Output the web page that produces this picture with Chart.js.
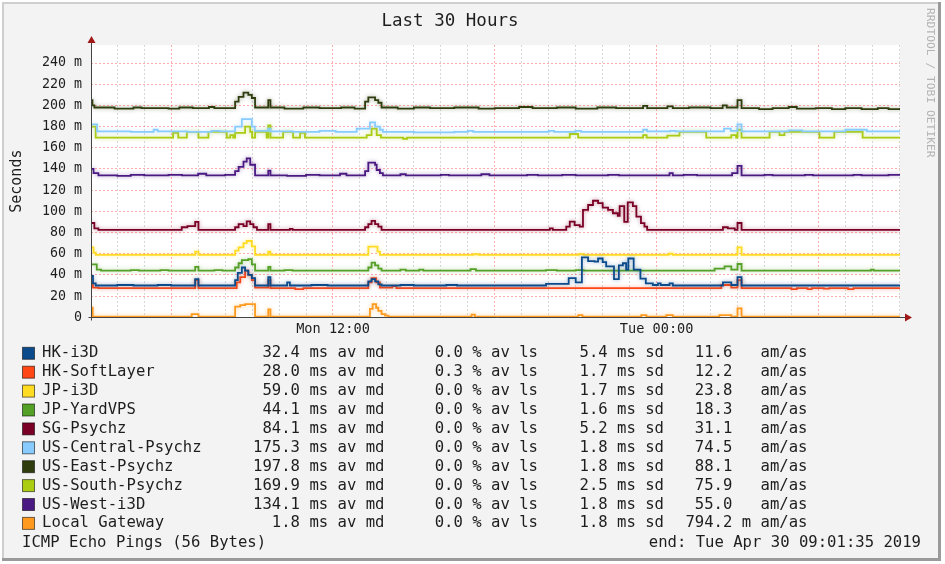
<!DOCTYPE html>
<html>
<head>
<meta charset="utf-8">
<title>Last 30 Hours</title>
<script src="https://cdn.jsdelivr.net/npm/chart.js@4.4.1/dist/chart.umd.min.js"></script>
<style>
  html, body { margin: 0; padding: 0; background: #fff; overflow: hidden; }
  canvas { display: block; }
</style>
</head>
<body>
<canvas id="c" width="945" height="564"></canvas>
<script>
// time axis in hours since Mon 00:00 (start Mon 03:01:35, end Tue 09:01:35)
const T0 = 3.026;
const T1 = 33.026;

const xLabelHours = [12, 24];
const xLabelText = ['Mon 12:00', 'Tue 00:00'];
const yLabelValues = [0, 20, 40, 60, 80, 100, 120, 140, 160, 180, 200, 220, 240];
const yLabelText = ['0', '20 m', '40 m', '60 m', '80 m', '100 m', '120 m', '140 m', '160 m', '180 m', '200 m', '220 m', '240 m'];

const names = ['HK-i3D', 'HK-SoftLayer', 'JP-i3D', 'JP-YardVPS', 'SG-Psychz', 'US-Central-Psychz',
  'US-East-Psychz', 'US-South-Psychz', 'US-West-i3D', 'Local Gateway'];
const colors = ['#0b4a8b', '#ff4716', '#ffdb22', '#55a026', '#7b0026', '#88ccff',
  '#2f3d0e', '#aacc11', '#4a1a82', '#ff9a1f'];
const avgMedian = ['32.4', '28.0', '59.0', '44.1', '84.1', '175.3', '197.8', '169.9', '134.1', '1.8'];
const avgLoss = ['0.0', '0.3', '0.0', '0.0', '0.0', '0.0', '0.0', '0.0', '0.0', '0.0'];
const avgSd = ['5.4', '1.7', '1.7', '1.6', '5.2', '1.8', '1.8', '2.5', '1.8', '1.8'];
const amAs = ['11.6', '12.2', '23.8', '18.3', '31.1', '74.5', '88.1', '75.9', '55.0', '794.2'];
const amAsUnit = [' ', ' ', ' ', ' ', ' ', ' ', ' ', ' ', ' ', 'm'];

// median rtt in ms, [hour, value] step points (value holds until next point)
const hkI3d = [[3.03,39],[3.1,32],[3.2,30],[4.0,30.5],[4.6,30],[5.5,30.5],[6.0,30],[6.89,36],[7.01,30],
  [8.37,35],[8.47,42],[8.62,47],[8.74,44],[8.86,40],[8.99,37],[9.11,30],[9.6,38],[9.68,30],[10.3,33],[10.4,30],
  [11.2,30.5],[11.8,30],[13.31,34],[13.43,36],[13.56,34],[13.68,31],[13.8,30],[14.5,30.5],[15.0,30],[16.2,30.5],
  [16.6,30],[19.9,31.5],[20.74,37],[21.0,33],[21.23,56.5],[21.46,53],[21.7,52.5],[21.83,55.5],[22.0,52],[22.13,48],
  [22.42,36],[22.6,49],[22.75,51],[22.87,45],[22.95,55.5],[23.15,45],[23.4,36.5],[23.6,32],[23.86,30.5],[24.05,32],
  [24.15,30.5],[24.48,32],[24.6,30],[26.46,33],[26.77,30.5],[27.0,38],[27.15,30],[33.03,30]];
const hkSoft = [[3.03,33],[3.1,28],[3.3,27.5],[6.89,35],[7.01,27.5],[8.43,33],[8.56,38],[8.74,44],[8.86,40],
  [8.99,35],[9.11,28],[9.6,35],[9.68,27.5],[10.6,26.5],[10.9,27.5],[13.31,33],[13.43,37],[13.6,33],[13.74,28],
  [14.2,29.5],[14.35,27.5],[26.4,30.5],[26.77,28],[27.0,35],[27.15,27.5],[29.0,26.5],[29.2,27.5],[29.6,26.5],
  [29.75,27.5],[30.2,27],[30.4,27.5],[31.1,26.5],[31.3,27.5],[33.03,27.5]];
const jpI3d = [[3.03,66],[3.12,61],[3.2,59],[6.89,62],[7.01,59],[8.37,63],[8.5,66],[8.68,70],[8.8,72],[8.99,67],
  [9.11,59],[9.6,62],[9.68,59],[13.31,66.7],[13.65,62],[13.74,59],[17.2,59.5],[17.4,59],[21.1,59.5],[21.3,59],
  [24.45,60],[24.6,59],[27.0,66],[27.15,59],[33.03,59]];
const jpYard = [[3.03,50],[3.24,45],[3.4,44],[4.5,44.5],[4.8,44],[5.6,44.5],[5.9,44],[6.89,47.5],[7.01,44],
  [7.6,44.5],[7.9,44],[8.37,47],[8.5,51],[8.62,54],[8.86,55],[8.99,50],[9.11,44],[9.6,47.5],[9.68,44],[10.2,44.5],
  [10.5,44],[13.31,47],[13.43,51.6],[13.56,49],[13.68,46],[13.8,44],[14.5,45],[14.7,44],[15.2,45],[15.35,44],
  [17.1,45.5],[17.3,44],[19.9,44.5],[20.3,44],[21.0,44.5],[21.3,44],[26.15,46],[26.52,48],[26.77,45],[27.0,50.3],
  [27.15,44],[31.95,45],[32.05,44],[33.03,44]];
const sgPsychz = [[3.03,89],[3.15,84],[3.3,82.5],[6.39,85],[6.6,86],[6.89,90],[7.01,82.5],[8.37,85],[8.5,88],
  [8.68,86],[8.8,90.5],[8.93,88],[9.05,85],[9.18,82.5],[9.6,88],[9.68,82.5],[10.4,83.5],[10.5,82.5],[13.19,85],
  [13.31,88],[13.43,91],[13.56,88],[13.68,85.5],[13.8,82.5],[20.04,84],[20.15,82.5],[20.65,85.6],[20.78,90.3],
  [20.96,87],[21.15,85.6],[21.27,101.4],[21.46,106],[21.64,110],[21.83,107.7],[22.0,103.5],[22.2,101.4],
  [22.38,98.2],[22.56,95.7],[22.63,105],[22.8,90],[22.93,108.5],[23.12,105],[23.25,95],[23.42,88.8],[23.55,85.6],
  [23.65,82.5],[26.46,85],[26.64,84],[26.9,82.5],[27.0,89],[27.15,82.5],[33.03,82.5]];
const usCentral = [[3.03,182],[3.25,175.5],[4.5,175],[5.35,177],[5.5,175.5],[6.6,175],[7.5,176],[7.8,175.5],
  [8.37,180],[8.62,187],[8.99,180],[9.1,176],[9.6,178],[9.68,175.5],[10.5,175],[11.5,176],[12.1,175],[12.88,178],
  [13.37,184],[13.56,180],[13.74,177],[13.85,175],[15.0,174.5],[16.5,175],[17.0,176],[17.2,175],[20.0,176],
  [20.2,175],[21.0,176],[21.2,175],[23.5,177],[23.65,175.5],[24.5,176],[24.7,175.5],[26.5,178],[26.75,176],
  [27.0,182],[27.15,175.5],[28.9,176.5],[29.4,175.5],[31.0,177],[31.8,175.5],[33.03,175.5]];
const usEast = [[3.03,205],[3.08,200],[3.15,198],[3.9,197],[4.6,198],[4.9,197.5],[5.9,197],[6.3,198],[6.8,197.5],
  [7.4,198.5],[7.6,197.5],[8.37,203.5],[8.5,208],[8.68,212],[8.86,210],[8.99,207],[9.11,198],[9.6,205],[9.68,198],
  [10.2,197],[10.9,198],[11.5,197.5],[12.3,198],[12.8,197],[13.19,203.5],[13.31,207.5],[13.56,205],[13.68,202.5],
  [13.8,198],[14.4,197],[15.0,198],[15.6,197.5],[16.5,198],[17.4,197],[18.0,197.5],[18.9,198.5],[19.4,197.5],
  [20.3,198],[21.0,197],[21.8,198],[22.5,197.5],[23.5,199.5],[23.65,197.5],[24.4,199],[24.6,197.5],[25.2,198],
  [26.0,197.5],[26.45,200],[26.6,198],[27.0,205],[27.15,197.5],[27.8,196.5],[28.3,197.5],[28.9,198.5],[29.2,197],
  [29.9,197.5],[30.5,196.5],[31.0,197.5],[31.6,196.5],[32.2,197.5],[32.6,196.5],[33.03,197.5]];
const usSouth = [[3.03,180],[3.2,169.5],[6.07,174],[6.26,169.5],[6.58,175],[7.01,169.5],[7.38,175],[8.06,169.5],
  [8.19,172],[8.3,169.5],[8.37,174],[8.74,180],[8.93,175],[9.0,169.5],[9.11,175],[9.54,169.5],[9.6,181],[9.68,169.5],
  [10.15,175],[10.52,169.5],[10.78,174],[10.96,169.5],[13.25,172],[13.43,178],[13.62,172],[13.78,169.5],[14.6,168.5],
  [14.75,169.5],[20.78,173],[21.09,169.5],[23.5,172],[23.63,169.5],[24.4,171.5],[24.85,175],[25.84,169.5],
  [26.77,172],[26.95,169.5],[27.0,177],[27.15,169.5],[28.19,175],[28.56,172],[28.74,175],[30.04,169.5],[30.59,175],
  [31.64,169.5],[33.03,169.5]];
const usWest = [[3.03,140],[3.12,136],[3.3,134],[4.0,133.5],[4.5,134.5],[5.0,134],[5.9,134.5],[6.4,134],[7.0,135.5],
  [7.3,134],[8.0,134.5],[8.37,138],[8.5,142],[8.68,147],[8.8,150],[8.93,144],[9.11,134],[9.6,138.5],[9.68,134],
  [10.3,133.5],[11.0,134.5],[11.5,134],[12.26,135.5],[12.5,134],[13.19,138],[13.31,146],[13.56,144],[13.62,139],
  [13.74,136],[13.85,134],[14.5,135],[14.7,134],[16.0,134.5],[16.3,134],[17.5,135],[17.8,134],[19.2,134.5],
  [19.6,134],[20.5,134.5],[21.0,134],[22.2,134.5],[22.6,134],[24.48,136],[24.6,134],[25.0,134.5],[25.5,134],
  [26.8,136],[27.0,143],[27.15,134],[28.0,134.5],[28.3,134],[29.5,134.5],[29.8,134],[31.3,134.5],[31.6,134],
  [32.6,134.5],[33.03,134]];
const localGw = [[3.03,9],[3.09,0.6],[6.76,3],[7.01,0.6],[8.37,10],[8.56,11.5],[8.74,12.5],[9.11,0.6],[9.6,7.5],
  [9.68,0.6],[13.37,8],[13.47,12.5],[13.6,9],[13.68,6],[13.8,3],[13.93,1.5],[14.05,0.6],[17.14,2.5],[17.26,0.6],
  [21.1,2],[21.25,0.6],[23.43,2],[23.62,0.6],[24.36,2],[24.6,0.6],[26.33,2],[26.77,0.6],[27.0,8.5],[27.15,0.6],
  [33.03,0.6]];

const seriesData = [hkI3d, hkSoft, jpI3d, jpYard, sgPsychz, usCentral, usEast, usSouth, usWest, localGw];

const MONO = '"DejaVu Sans Mono", "Liberation Mono", monospace';
const TEXT = '#1e1e1e';
const MGRID = 'rgba(255, 0, 0, 0.32)';
const GRID = 'rgba(120, 120, 120, 0.3)';

const hourTicks = [];
for (let h = 4; h <= 33; h++) hourTicks.push(h);
const yGridValues = [];
for (let v = 0; v <= 250; v += 10) yGridValues.push(v);

const rrdDecor = {
  id: 'rrdDecor',
  beforeDraw(chart) {
    const { ctx, chartArea: a } = chart;
    ctx.save();
    ctx.fillStyle = '#ffffff';
    ctx.fillRect(0, 0, 945, 564);
    ctx.fillStyle = '#f3f3f3';
    ctx.fillRect(2, 2, 939, 559);
    ctx.fillStyle = '#cfcfcf';
    ctx.fillRect(2, 2, 939, 2);
    ctx.fillRect(2, 2, 2, 559);
    ctx.fillStyle = '#9a9a9a';
    ctx.fillRect(938, 2, 3, 559);
    ctx.fillRect(2, 558, 939, 3);
    ctx.fillStyle = '#ffffff';
    ctx.fillRect(a.left, a.top, a.right - a.left, a.bottom - a.top);
    ctx.restore();
  },
  // soft halo round each line, like the smoke in the original
  beforeDatasetDraw(chart, args) {
    const ctx = chart.ctx;
    ctx.save();
    ctx.shadowColor = colors[args.index] + '70';
    ctx.shadowBlur = 4;
  },
  afterDatasetDraw(chart) {
    chart.ctx.restore();
  },
  afterDatasetsDraw(chart) {
    const { ctx, chartArea: a } = chart;
    const x0 = Math.round(a.left) + 0.5;
    const y0 = Math.round(a.bottom) + 0.5;
    ctx.save();
    ctx.strokeStyle = '#444';
    ctx.lineWidth = 1;
    ctx.beginPath();
    ctx.moveTo(x0, y0 + 3);
    ctx.lineTo(x0, a.top - 4);
    ctx.moveTo(x0 - 3, y0);
    ctx.lineTo(a.right + 6, y0);
    ctx.stroke();
    ctx.fillStyle = '#a01818';
    ctx.beginPath();
    ctx.moveTo(x0, a.top - 9);
    ctx.lineTo(x0 - 4, a.top - 2);
    ctx.lineTo(x0 + 4, a.top - 2);
    ctx.closePath();
    ctx.fill();
    ctx.beginPath();
    ctx.moveTo(a.right + 12, y0);
    ctx.lineTo(a.right + 5, y0 - 4);
    ctx.lineTo(a.right + 5, y0 + 4);
    ctx.closePath();
    ctx.fill();
    ctx.restore();
  },
  afterDraw(chart) {
    const { ctx } = chart;
    ctx.save();
    ctx.font = '15.6px ' + MONO;
    ctx.textBaseline = 'middle';
    names.forEach((name, i) => {
      const y = 353.3 + i * 18.9;
      ctx.fillStyle = colors[i];
      ctx.fillRect(22.5, y - 6, 12, 12);
      ctx.strokeStyle = 'rgba(0,0,0,0.55)';
      ctx.lineWidth = 1;
      ctx.strokeRect(22.5, y - 6, 12, 12);
      ctx.fillStyle = TEXT;
      ctx.textAlign = 'left';
      ctx.fillText(name, 42, y);
      ctx.textAlign = 'right';
      ctx.fillText(avgMedian[i] + ' ms av md', 384.5, y);
      ctx.fillText(avgLoss[i] + ' % av ls', 538, y);
      ctx.fillText(avgSd[i] + ' ms sd', 664, y);
      ctx.fillText(amAs[i] + ' ' + amAsUnit[i] + ' am/as', 807.5, y);
    });
    ctx.textAlign = 'left';
    ctx.fillText('ICMP Echo Pings (56 Bytes)', 22, 543);
    ctx.textAlign = 'right';
    ctx.fillText('end: Tue Apr 30 09:01:35 2019', 921, 543);

    ctx.translate(930, 8);
    ctx.rotate(Math.PI / 2);
    ctx.font = '11.3px ' + MONO;
    ctx.fillStyle = '#b4b4b4';
    ctx.textAlign = 'left';
    ctx.textBaseline = 'middle';
    ctx.fillText('RRDTOOL / TOBI OETIKER', 0, 0);
    ctx.restore();
  }
};

new Chart(document.getElementById('c'), {
  type: 'line',
  data: {
    datasets: seriesData.map((pts, i) => ({
      label: names[i],
      data: pts.map(([x, y]) => ({ x, y })),
      borderColor: colors[i],
      backgroundColor: colors[i],
      borderWidth: 1.8,
      pointRadius: 0,
      stepped: true,
      fill: false
    }))
  },
  options: {
    responsive: false,
    animation: false,
    devicePixelRatio: 1,
    layout: { padding: { left: 0, right: 45, top: 0, bottom: 0 } },
    plugins: {
      legend: { display: false },
      tooltip: { enabled: false },
      title: {
        display: true,
        text: 'Last 30 Hours',
        color: TEXT,
        font: { family: MONO, size: 17.5, weight: 'normal', lineHeight: 1.2 },
        padding: { top: 11, bottom: 13 }
      }
    },
    scales: {
      x: {
        type: 'linear',
        min: T0,
        max: T1,
        afterBuildTicks: s => { s.ticks = hourTicks.map(v => ({ value: v })); },
        afterFit: s => { s.height = 246.7; },
        ticks: {
          autoSkip: false,
          maxRotation: 0,
          padding: 4,
          color: TEXT,
          font: { family: MONO, size: 13.6 },
          callback: v => {
            const i = xLabelHours.indexOf(v);
            return i >= 0 ? xLabelText[i] : '';
          }
        },
        grid: {
          drawTicks: false,
          lineWidth: 1,
          color: c => (c.tick && c.tick.value % 6 === 0 ? MGRID : GRID)
        },
        border: { display: false, dash: [2, 2] }
      },
      y: {
        min: 0,
        max: 257,
        afterBuildTicks: s => { s.ticks = yGridValues.map(v => ({ value: v })); },
        afterFit: s => { s.width = 91; },
        title: {
          display: true,
          text: 'Seconds',
          color: TEXT,
          font: { family: MONO, size: 15, lineHeight: 1.2 },
          padding: { top: 8, bottom: 0 }
        },
        ticks: {
          padding: 9,
          color: TEXT,
          font: { family: MONO, size: 13.3 },
          callback: v => {
            const i = yLabelValues.indexOf(v);
            return i >= 0 ? yLabelText[i] : '';
          }
        },
        grid: {
          drawTicks: false,
          lineWidth: 1,
          color: c => (c.tick && c.tick.value % 20 === 0 ? MGRID : GRID)
        },
        border: { display: false, dash: [2, 2] }
      }
    }
  },
  plugins: [rrdDecor]
});
</script>
</body>
</html>
